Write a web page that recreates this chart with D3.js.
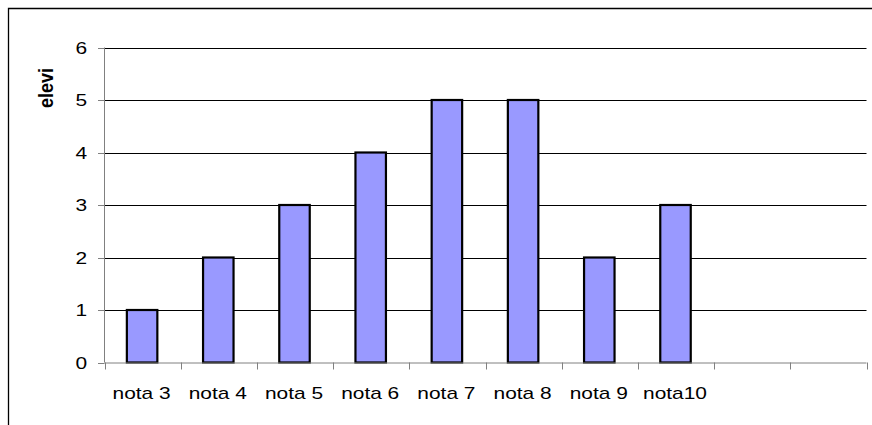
<!DOCTYPE html>
<html><head><meta charset="utf-8">
<script src="https://cdn.jsdelivr.net/npm/d3@7"></script>
<style>body{margin:0;background:#fff}svg{display:block}</style>
</head><body>
<svg id="c" width="872" height="425"></svg>
<script>
const categories = ["nota 3","nota 4","nota 5","nota 6","nota 7","nota 8","nota 9","nota10","",""];
const values = [1,2,3,4,5,5,2,3,null,null];
const yTicks = [0,1,2,3,4,5,6];
const yTitle = "elevi";

(function(){
const svg = d3.select("#c");
const pLeft = 104.5, pRight = 866.5, pTop = 47.5, pBottom = 362.5;
const sx = 1.23; // horizontal stretch of text

// outer frame
svg.append("path").attr("d","M8.5,425 V8.5 H872").attr("fill","none").attr("stroke","#000").attr("stroke-width",1.3);

const x = d3.scaleBand().domain(d3.range(categories.length)).range([pLeft,pRight]).paddingInner(0).paddingOuter(0);
const y = d3.scaleLinear().domain([0,6]).range([pBottom,pTop]);

// gridlines
svg.append("g").selectAll("line").data(yTicks.filter(d=>d>0)).join("line")
  .attr("x1",pLeft).attr("x2",pRight)
  .attr("y1",d=>Math.round(y(d))+0.5).attr("y2",d=>Math.round(y(d))+0.5)
  .attr("stroke","#000").attr("stroke-width",1);

// y axis
const ya = svg.append("g");
ya.append("line").attr("x1",pLeft).attr("x2",pLeft).attr("y1",pTop).attr("y2",pBottom).attr("stroke","#808080");
ya.selectAll("line.t").data(yTicks).join("line").attr("class","t")
  .attr("x1",pLeft-6.5).attr("x2",pLeft).attr("y1",d=>Math.round(y(d))+0.5).attr("y2",d=>Math.round(y(d))+0.5)
  .attr("stroke","#808080");
ya.selectAll("text").data(yTicks).join("text")
  .attr("transform",d=>`translate(87,${y(d)}) scale(${sx},1)`)
  .attr("text-anchor","end").attr("dy","0.36em")
  .attr("font-family","Liberation Sans, Arial, sans-serif").attr("font-size",17)
  .text(d=>d);

// y title
svg.append("text").attr("transform",`translate(53,88) scale(${sx},1) rotate(-90)`)
  .attr("text-anchor","middle")
  .attr("font-family","Liberation Sans, Arial, sans-serif").attr("font-size",16).attr("font-weight","bold")
  .attr("textLength",40).attr("lengthAdjust","spacingAndGlyphs")
  .text(yTitle);

// bars
const bw = x.bandwidth()/2.5;
svg.append("g").selectAll("rect").data(values.map((v,i)=>({v,i})).filter(d=>d.v!=null)).join("rect")
  .attr("x",d=>x(d.i)+x.bandwidth()/2-bw/2 - 0.5)
  .attr("width",bw)
  .attr("y",d=>y(d.v))
  .attr("height",d=>y(0)-y(d.v))
  .attr("fill","#9999FF").attr("stroke","#000").attr("stroke-width",2.2);

// x axis
const xa = svg.append("g");
xa.append("line").attr("x1",pLeft).attr("x2",pRight).attr("y1",pBottom+0.5).attr("y2",pBottom+0.5).attr("stroke","#808080");
xa.selectAll("line.t").data(d3.range(categories.length+1)).join("line").attr("class","t")
  .attr("x1",d=>Math.round(pLeft+d*x.step())+0.5).attr("x2",d=>Math.round(pLeft+d*x.step())+0.5)
  .attr("y1",pBottom).attr("y2",pBottom+7)
  .attr("stroke","#808080");
xa.selectAll("text").data(categories.map((c,i)=>({c,i}))).join("text")
  .attr("transform",d=>`translate(${x(d.i)+x.bandwidth()/2 - 1},399) scale(${sx},1)`)
  .attr("text-anchor","middle")
  .attr("font-family","Liberation Sans, Arial, sans-serif").attr("font-size",17)
  .text(d=>d.c);
})();
</script>
</body></html>
